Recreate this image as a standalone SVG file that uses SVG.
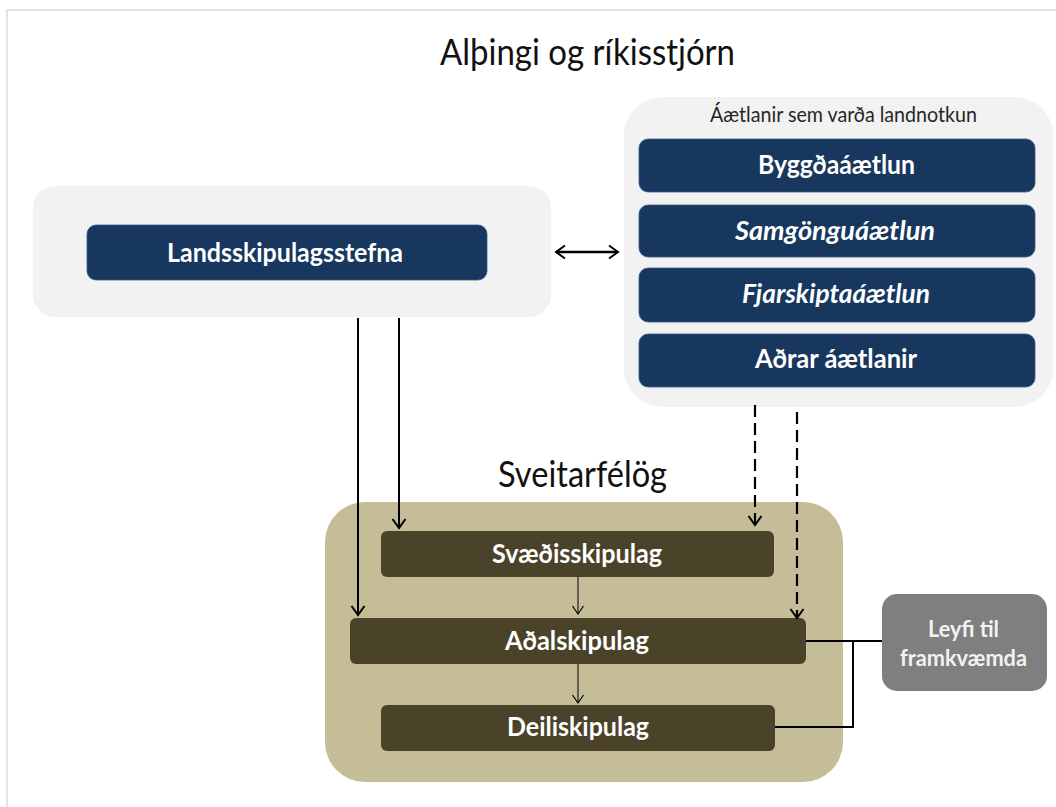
<svg xmlns="http://www.w3.org/2000/svg" width="1056" height="807" viewBox="0 0 1056 807">
<defs>
<style>
.panel{fill:#f2f2f2}
.navy{fill:#17375e;stroke:#3a5a86;stroke-width:0.8}
.brown{fill:#4a4229}
.tan{fill:#c4bd97}
.grey{fill:#7f7f7f}
.t{font-family:Lato,"Liberation Sans",sans-serif;text-anchor:middle}
.head{font-size:36px;fill:#111}
.box{font-size:27px;font-weight:bold;fill:#fff}
.it{font-style:italic}
.conn{fill:none;stroke:#000}
</style>
<marker id="ah" viewBox="-12 -9 14 18" refX="0" refY="0" markerWidth="14" markerHeight="18" markerUnits="userSpaceOnUse" orient="auto-start-reverse">
<path d="M-9,-6.5 L0,0 L-9,6.5" fill="none" stroke="#000" stroke-width="2"/>
</marker>
<marker id="ahs" viewBox="-10 -8 12 16" refX="0" refY="0" markerWidth="12" markerHeight="16" markerUnits="userSpaceOnUse" orient="auto">
<path d="M-8,-5.5 L0,0 L-8,5.5" fill="none" stroke="#000" stroke-width="1.2"/>
</marker>
</defs>
<rect width="1056" height="807" fill="#fff"/>
<path d="M7,807 V10 H1056" fill="none" stroke="#d8dce8" stroke-width="1.5"/>

<text class="t head" x="587.5" y="65" textLength="295" lengthAdjust="spacingAndGlyphs">Alþingi og ríkisstjórn</text>
<text class="t head" x="582.5" y="487" textLength="169" lengthAdjust="spacingAndGlyphs">Sveitarfélög</text>

<g id="national-panel">
<rect class="panel" x="33" y="186" width="518" height="131" rx="22"/>
</g>
<g id="landsskipulagsstefna">
<rect class="navy" x="87" y="225" width="400" height="55" rx="9"/>
<text class="t box" x="285" y="262" textLength="236" lengthAdjust="spacingAndGlyphs">Landsskipulagsstefna</text>
</g>

<g id="plans-panel">
<rect class="panel" x="624" y="97" width="429" height="310" rx="38"/>
<text class="t" x="843.5" y="122" font-size="21" fill="#262626" textLength="267" lengthAdjust="spacingAndGlyphs">Áætlanir sem varða landnotkun</text>
</g>
<g id="byggdaaaetlun">
<rect class="navy" x="639" y="139" width="396" height="53" rx="9"/>
<text class="t box" x="836.5" y="174" textLength="157" lengthAdjust="spacingAndGlyphs">Byggðaáætlun</text>
</g>
<g id="samgonguaaetlun">
<rect class="navy" x="639" y="205" width="396" height="52" rx="9"/>
<text class="t box it" x="835" y="240" textLength="200" lengthAdjust="spacingAndGlyphs">Samgönguáætlun</text>
</g>
<g id="fjarskiptaaaetlun">
<rect class="navy" x="639" y="268" width="396" height="54" rx="9"/>
<text class="t box it" x="836" y="303" textLength="188" lengthAdjust="spacingAndGlyphs">Fjarskiptaáætlun</text>
</g>
<g id="adrar-aaetlanir">
<rect class="navy" x="639" y="334" width="396" height="53" rx="9"/>
<text class="t box" x="836" y="368" textLength="162" lengthAdjust="spacingAndGlyphs">Aðrar áætlanir</text>
</g>

<g id="municipal-panel">
<rect class="tan" x="325" y="502" width="518" height="280" rx="40"/>
</g>
<g id="svaedisskipulag">
<rect class="brown" x="381" y="531" width="393" height="46" rx="6"/>
<text class="t box" x="577" y="563" textLength="170" lengthAdjust="spacingAndGlyphs">Svæðisskipulag</text>
</g>
<g id="adalskipulag">
<rect class="brown" x="350" y="618" width="456" height="46" rx="6"/>
<text class="t box" x="577" y="650" textLength="144" lengthAdjust="spacingAndGlyphs">Aðalskipulag</text>
</g>
<g id="deiliskipulag">
<rect class="brown" x="381" y="705" width="394" height="46" rx="6"/>
<text class="t box" x="578" y="736" textLength="142" lengthAdjust="spacingAndGlyphs">Deiliskipulag</text>
</g>
<g id="leyfi">
<rect class="grey" x="882" y="594" width="165" height="97" rx="15"/>
<text class="t" x="963.5" y="637" font-size="23" font-weight="bold" fill="#f2f2f2" textLength="71" lengthAdjust="spacingAndGlyphs">Leyfi til</text>
<text class="t" x="963.5" y="666" font-size="23" font-weight="bold" fill="#f2f2f2" textLength="127" lengthAdjust="spacingAndGlyphs">framkvæmda</text>
</g>

<g id="connectors">
<line class="conn" x1="556" y1="252" x2="618" y2="252" stroke-width="2.5" marker-start="url(#ah)" marker-end="url(#ah)"/>
<line class="conn" x1="358" y1="318" x2="358" y2="615" stroke-width="2" marker-end="url(#ah)"/>
<line class="conn" x1="399" y1="318" x2="399" y2="528" stroke-width="2" marker-end="url(#ah)"/>
<line class="conn" x1="755" y1="405" x2="755" y2="525" stroke-width="2.2" stroke-dasharray="12,6" marker-end="url(#ah)"/>
<line class="conn" x1="797" y1="412" x2="797" y2="618" stroke-width="2.2" stroke-dasharray="12,6" marker-end="url(#ah)"/>
<line class="conn" x1="578" y1="577" x2="578" y2="614" stroke-width="1" marker-end="url(#ahs)"/>
<line class="conn" x1="578" y1="664" x2="578" y2="703" stroke-width="1" marker-end="url(#ahs)"/>
<path class="conn" d="M806,641 H882 M853,641 V727 H775" stroke-width="2"/>
</g>
</svg>
